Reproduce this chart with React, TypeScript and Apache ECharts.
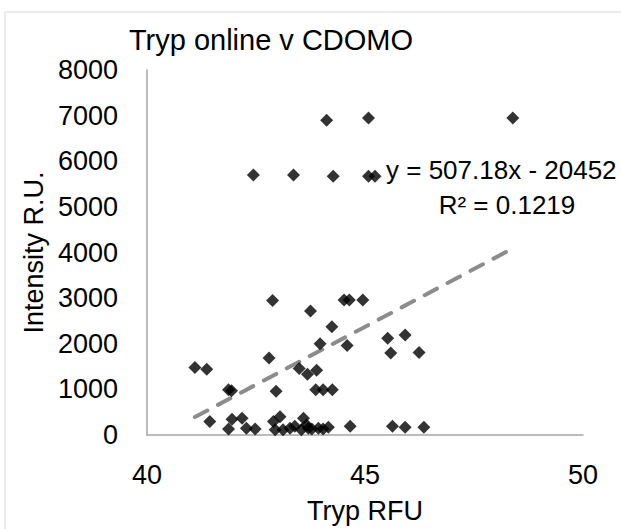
import React, { useEffect, useRef } from "react";
import * as echarts from "echarts";

const titleText = "Tryp online v CDOMO";
const xAxisName = "Tryp RFU";
const yAxisName = "Intensity R.U.";
const equationText = "y = 507.18x - 20452";
const r2Text = "R\u00B2 = 0.1219";
const slope = 507.18;
const intercept = -20452;

const trypRFU: number[] = [
  44.12, 45.08, 48.39,
  42.44, 43.36, 44.27, 45.08, 45.23,
  41.1, 41.37, 42.88, 43.75, 44.24, 44.52, 44.64, 44.95,
  43.97, 44.59, 42.8, 43.49, 43.89, 43.68,
  41.87, 41.94, 42.96, 43.87, 44.04, 44.25,
  45.52, 45.92, 45.59, 46.24, 45.63, 45.92, 46.35, 44.66,
  41.44, 41.95, 42.18, 41.87, 42.28, 42.48, 42.9, 43.05, 42.94, 43.12,
  43.28, 43.39, 43.54, 43.7, 43.59, 43.66, 43.78, 43.93, 44.04, 44.16,
];
const intensity: number[] = [
  6900, 6950, 6950,
  5700, 5700, 5670, 5670, 5670,
  1480, 1440, 2950, 2720, 2370, 2960, 2960, 2960,
  2000, 1960, 1690, 1460, 1420, 1330,
  990, 970, 960, 990, 990, 990,
  2120, 2190, 1800, 1810, 190, 170, 170, 190,
  295, 345, 365, 130, 150, 130, 295, 400, 115, 115,
  150, 190, 115, 150, 365, 220, 130, 150, 130, 170,
];

const FONT = "'Liberation Sans', Arial, sans-serif";
const W = 621;
const H = 529;

export default function App() {
  const ref = useRef<HTMLDivElement>(null);
  useEffect(() => {
    if (!ref.current) return;
    document.body.style.margin = "0";
    document.body.style.overflow = "hidden";
    const chart = echarts.init(ref.current, undefined, { renderer: "svg", width: W, height: H });
    const points = trypRFU.map((x, i) => [x, intensity[i]]);
    const xMin = Math.min(...trypRFU);
    const xMax = Math.max(...trypRFU);
    const trend = [
      [xMin, slope * xMin + intercept],
      [xMax, slope * xMax + intercept],
    ];
    chart.setOption({
      animation: false,
      backgroundColor: "#ffffff",
      textStyle: { fontFamily: FONT },
      title: {
        text: titleText,
        left: 266,
        top: 20,
        textAlign: "center",
        textStyle: { fontFamily: FONT, fontSize: 29, fontWeight: "normal", color: "#000000" },
      },
      grid: { left: 147, right: 38, top: 70, bottom: 87, containLabel: false },
      xAxis: {
        type: "value",
        min: 40,
        max: 50,
        interval: 5,
        name: xAxisName,
        nameLocation: "middle",
        nameGap: 62,
        nameTextStyle: { fontFamily: FONT, fontSize: 27, color: "#000000" },
        axisLine: { show: true, onZero: false, lineStyle: { color: "#a6a6a6", width: 1.5 } },
        axisTick: { show: false },
        splitLine: { show: false },
        axisLabel: { fontFamily: FONT, fontSize: 27, color: "#000000", margin: 26 },
      },
      yAxis: {
        type: "value",
        min: 0,
        max: 8000,
        interval: 1000,
        name: yAxisName,
        nameLocation: "middle",
        nameGap: 98,
        nameTextStyle: { fontFamily: FONT, fontSize: 27, color: "#000000" },
        axisLine: { show: true, lineStyle: { color: "#a6a6a6", width: 1.5 } },
        axisTick: { show: false },
        splitLine: { show: false },
        axisLabel: {
          fontFamily: FONT,
          fontSize: 27,
          color: "#000000",
          margin: 29,
          formatter: (v: number) => String(v),
        },
      },
      graphic: [
        {
          type: "rect",
          shape: { x: 5, y: 12, width: 640, height: 540 },
          style: { fill: "none", stroke: "#d9d9d9", lineWidth: 1 },
          silent: true,
          z: -1,
        },
        {
          type: "text",
          x: 386,
          y: 170,
          style: {
            text: equationText,
            fontFamily: FONT,
            fontSize: 26,
            fill: "#000000",
            textAlign: "left",
            textVerticalAlign: "middle",
          },
        },
        {
          type: "text",
          x: 507,
          y: 205,
          style: {
            text: r2Text,
            fontFamily: FONT,
            fontSize: 26,
            fill: "#000000",
            textAlign: "center",
            textVerticalAlign: "middle",
          },
        },
      ],
      series: [
        {
          type: "scatter",
          data: points,
          symbol: "diamond",
          symbolSize: 13,
          itemStyle: { color: "#000000" },
          z: 3,
        },
        {
          type: "line",
          data: trend,
          symbol: "none",
          lineStyle: { color: "#8c8c8c", width: 4, type: [14, 12], cap: "round" },
          z: 2,
        },
      ],
    });
    return () => chart.dispose();
  }, []);
  return <div ref={ref} style={{ width: W, height: H, overflow: "hidden" }} />;
}
